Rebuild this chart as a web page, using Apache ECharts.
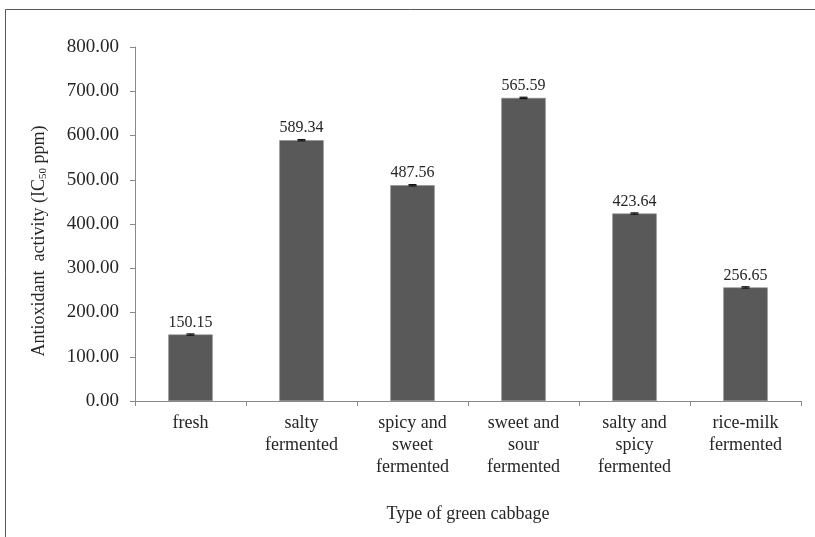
<!DOCTYPE html>
<html>
<head>
<meta charset="utf-8">
<script src="https://cdn.jsdelivr.net/npm/echarts@6/dist/echarts.min.js"></script>
<style>
html,body{margin:0;padding:0;background:#fff;}
#chart{width:815px;height:537px;}
</style>
</head>
<body>
<div id="chart"></div>
<script>
// Data
var categories = ['fresh', 'salty\nfermented', 'spicy and\nsweet\nfermented', 'sweet and\nsour\nfermented', 'salty and\nspicy\nfermented', 'rice-milk\nfermented'];
var barValues = [150.15, 589.34, 487.56, 685.0, 423.64, 256.65];
var barLabels = ['150.15', '589.34', '487.56', '565.59', '423.64', '256.65'];
var errValues = [1.5, 1.5, 1.5, 1.5, 1.5, 1.5];
var yTicks = { min: 0, max: 800, interval: 100 };

var FONT = 'Liberation Serif';
var TXT = '#262626';
var chart = echarts.init(document.getElementById('chart'));

var option = {
  backgroundColor: '#ffffff',
  animation: false,
  grid: { left: 135, right: 14, top: 47, bottom: 136, containLabel: false },
  graphic: [
    {
      type: 'rect',
      shape: { x: 5.5, y: 9.5, width: 900, height: 700 },
      style: { fill: 'none', stroke: '#595959', lineWidth: 1 },
      silent: true
    },
    {
      type: 'text',
      x: 39,
      y: 241,
      rotation: Math.PI / 2,
      style: {
        text: '{n|Antioxidant  activity (IC}{s|50}{n| ppm)}',
        align: 'center',
        verticalAlign: 'middle',
        rich: {
          n: { fontFamily: FONT, fontSize: 18, fill: TXT },
          s: { fontFamily: FONT, fontSize: 11, fill: TXT, padding: [8, 0, 0, 0] }
        }
      }
    }
  ],
  xAxis: {
    type: 'category',
    data: categories,
    name: 'Type of green cabbage',
    nameLocation: 'middle',
    nameGap: 104,
    nameTextStyle: { fontFamily: FONT, fontSize: 18, color: TXT },
    axisLine: { lineStyle: { color: '#8a8a8a', width: 1 } },
    axisTick: { show: true, alignWithLabel: false, length: 5, lineStyle: { color: '#8a8a8a' } },
    axisLabel: { fontFamily: FONT, fontSize: 18, color: TXT, lineHeight: 22, margin: 11, interval: 0 },
    splitLine: { show: false }
  },
  yAxis: {
    type: 'value',
    min: yTicks.min,
    max: yTicks.max,
    interval: yTicks.interval,
    axisLine: { show: true, lineStyle: { color: '#8a8a8a', width: 1 } },
    axisTick: { show: true, length: 5, lineStyle: { color: '#8a8a8a' } },
    axisLabel: {
      fontFamily: FONT, fontSize: 19, color: TXT, margin: 16,
      formatter: function (v) { return v.toFixed(2); }
    },
    splitLine: { show: false }
  },
  series: [
    {
      type: 'bar',
      data: barValues,
      barWidth: '40%',
      itemStyle: { color: '#595959', borderColor: '#8c8c8c', borderWidth: 0.6 },
      label: {
        show: true,
        position: 'top',
        distance: 4,
        fontFamily: FONT,
        fontSize: 16,
        color: TXT,
        formatter: function (p) { return barLabels[p.dataIndex]; }
      },
      z: 2
    },
    {
      type: 'custom',
      data: barValues.map(function (v, i) { return [i, v, errValues[i]]; }),
      renderItem: function (params, api) {
        var i = api.value(0), v = api.value(1), e = api.value(2);
        var hi = api.coord([i, v + e]);
        var lo = api.coord([i, v - e]);
        var w = 4;
        var st = { stroke: '#111', lineWidth: 1.2 };
        return {
          type: 'group',
          children: [
            { type: 'line', shape: { x1: hi[0], y1: hi[1], x2: lo[0], y2: lo[1] }, style: st },
            { type: 'line', shape: { x1: hi[0] - w, y1: hi[1], x2: hi[0] + w, y2: hi[1] }, style: st },
            { type: 'line', shape: { x1: lo[0] - w, y1: lo[1], x2: lo[0] + w, y2: lo[1] }, style: st }
          ]
        };
      },
      z: 3
    }
  ]
};
chart.setOption(option);
</script>
</body>
</html>
